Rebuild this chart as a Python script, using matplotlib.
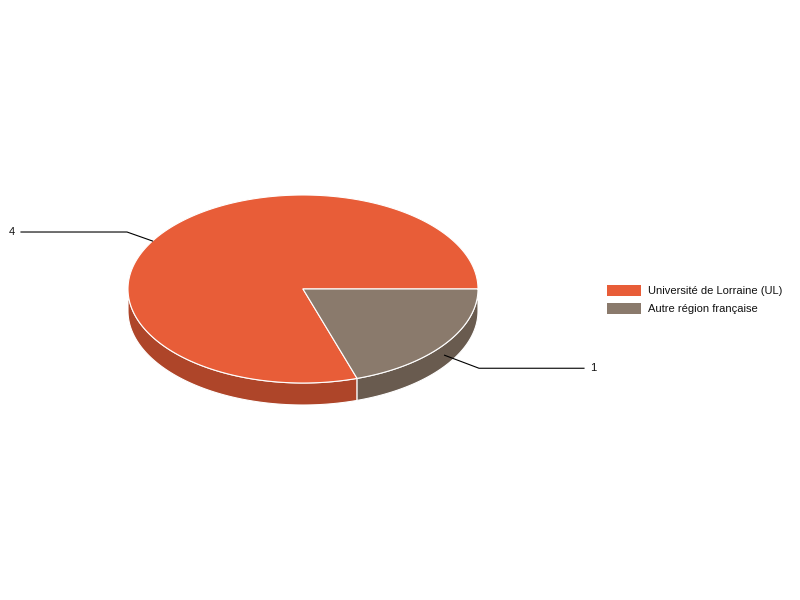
import numpy as np
import matplotlib
matplotlib.use("Agg")
import matplotlib.pyplot as plt
from matplotlib.patches import Polygon, Rectangle

labels = ["Université de Lorraine (UL)", "Autre région française"]
values = [4, 1]
top_colors = ["#E85D38", "#8A7A6C"]
side_colors = ["#AE4529", "#695B4F"]

plt.rcParams['font.family'] = ['Liberation Sans', 'DejaVu Sans']

fig = plt.figure(figsize=(8, 6), dpi=100)
ax = fig.add_axes([0, 0, 1, 1])
ax.set_xlim(0, 800)
ax.set_ylim(600, 0)
ax.axis('off')

cx, cy = 303, 289
rx, ry = 175, 94
depth = 22
start = 72.0  # degrees, clockwise on screen from 3 o'clock

total = sum(values)
angles = []
a = start
for v in values:
    span = 360.0 * v / total
    angles.append((a, a + span))
    a += span

def ell(t, dy=0):
    t = np.radians(t)
    return np.column_stack([cx + rx * np.cos(t), cy + ry * np.sin(t) + dy])

# side walls (front half: screen angles 0..180 mod 360)
for (a1, a2), sc in zip(angles, side_colors):
    for k in range(-1, 3):
        lo = max(a1, 360 * k)
        hi = min(a2, 360 * k + 180)
        if hi > lo:
            t = np.linspace(lo, hi, 200)
            pts = np.vstack([ell(t), ell(t[::-1], depth)])
            ax.add_patch(Polygon(pts, closed=True, facecolor=sc,
                                 edgecolor='white', linewidth=0.8, joinstyle='round'))

# top faces
for (a1, a2), tc in zip(angles, top_colors):
    t = np.linspace(a1, a2, 400)
    pts = np.vstack([[cx, cy], ell(t)])
    ax.add_patch(Polygon(pts, closed=True, facecolor=tc,
                         edgecolor='white', linewidth=0.8, joinstyle='round'))

# data labels with connectors
for (a1, a2), v in zip(angles, values):
    mid = ((a1 + a2) / 2) % 360
    front = np.sin(np.radians(mid)) > 0
    anchor = mid if front else mid - 5.3
    r = np.radians(anchor)
    px = cx + rx * np.cos(r)
    py = cy + ry * np.sin(r)
    if front:
        py += depth / 2
    right = np.cos(r) > 0
    ex = cx + (rx + 1) * (1 if right else -1) - (0 if right else 0)
    ey = py + (13 if front else -9)
    lx = ex + (105 if right else -106)
    ax.plot([px, ex, lx], [py, ey, ey], color='black', linewidth=0.8,
            solid_joinstyle='miter')
    ax.text(lx + (6 if right else -6), ey, str(v), fontsize=8,
            ha='left' if right else 'right', va='center', color='#111111')

# legend
for i, (lab, tc) in enumerate(zip(labels, top_colors)):
    y0 = 285 + 18 * i
    ax.add_patch(Rectangle((607, y0), 34, 11, facecolor=tc, edgecolor='none'))
    ax.text(648, y0 + 5.5, lab, fontsize=8, va='center', ha='left', color='#111111')

fig.savefig("out.png", dpi=100)
